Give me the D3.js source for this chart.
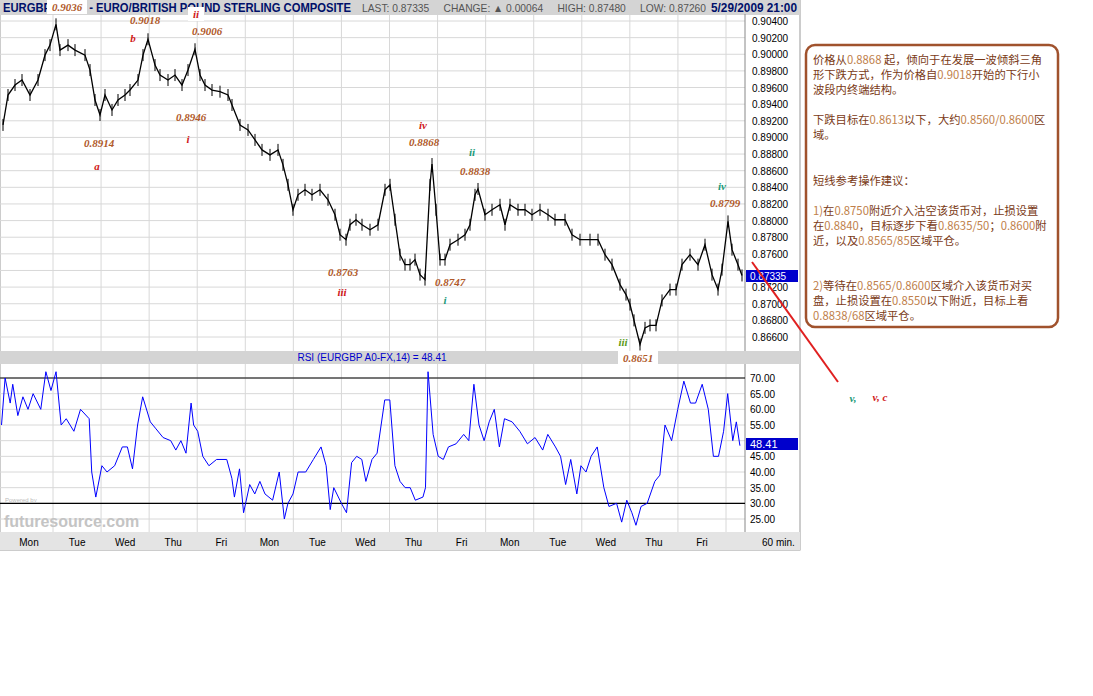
<!DOCTYPE html><html><head><meta charset="utf-8"><script src="https://cdn.jsdelivr.net/npm/d3@7"></script>
<style>body{margin:0;background:#fff}</style></head><body><svg id="c" width="1093" height="696"></svg>
<script>
const priceT=[3,8,15,22,30,38,45,50,56,60,68,75,85,90,95,100,105,112,118,125,130,138,143,148,155,160,168,175,182,188,195,200,205,212,220,228,232,240,248,255,262,270,278,283,288,293,298,305,312,320,328,335,340,346,350,356,362,370,378,385,390,395,400,405,410,415,420,425,430,432,436,440,445,450,458,465,470,475,478,485,492,500,505,510,518,525,532,540,548,555,565,572,580,590,598,605,612,620,626,630,634,640,645,650,656,662,670,676,682,690,698,705,712,718,722,728,732,738,742];
const priceV=[0.8915,0.8951,0.8963,0.8969,0.8951,0.8969,0.8999,0.9011,0.9036,0.9005,0.9011,0.9005,0.8999,0.8981,0.8945,0.8927,0.8951,0.8933,0.8945,0.8951,0.8957,0.8969,0.8999,0.9018,0.8987,0.8975,0.8969,0.8975,0.8963,0.8981,0.9006,0.8975,0.8963,0.8957,0.8955,0.8951,0.8939,0.8915,0.8909,0.8897,0.8885,0.8879,0.8885,0.8867,0.8843,0.8813,0.8831,0.8837,0.8831,0.8837,0.8825,0.8807,0.8783,0.8777,0.8795,0.8801,0.8795,0.8789,0.8795,0.8837,0.8843,0.8801,0.8759,0.8747,0.8747,0.8753,0.8735,0.8729,0.8843,0.8868,0.8813,0.8753,0.8753,0.8771,0.8777,0.8783,0.8795,0.8831,0.8838,0.8807,0.8813,0.8819,0.8795,0.8819,0.8813,0.8813,0.8807,0.8813,0.8807,0.8801,0.8801,0.8783,0.8777,0.8777,0.8777,0.8759,0.8747,0.8723,0.8711,0.8699,0.8680,0.8651,0.8671,0.8674,0.8674,0.8704,0.8717,0.8717,0.8747,0.8759,0.8747,0.8771,0.8735,0.8717,0.8741,0.8799,0.8765,0.8747,0.8734];
const rsiT=[3,10,20,25,35,45,55,65,80,90,100,110,120,130,145,158,175,180,188,200,210,225,240,250,260,270,280,295,305,320,335,345,355,365,375,380,388,398,410,425,445,455,460,470,478,490,500,510,520,535,548,558,565,575,585,600,615,630,640,648,655,670,680,690,700,710,718,730,740,755,765,775,785,795,805,815,830,835,840,850,860,870,880,895,910,920,930,940,950,960,970,980,990,1005,1020,1035,1050,1065,1075,1090,1100,1110,1120,1132,1140,1150,1160,1172,1185,1195,1210,1220,1230,1240,1248,1258,1270,1285,1295,1305,1318,1330,1342,1355,1365,1378,1390,1400,1410,1420,1428,1438,1445,1452];
const rsiV=[55,70,62,68,58,64,60,65,60,72,66,72,55,57,53,60,57,40,32,42,40,42,48,48,41,55,64,56,54,51,50,47,50,46,62,55,53,45,42,44,44,38,32,41,27,36,33,37,33,31,40,25,30,33,40,40,44,48,42,28,35,30,27,43,45,44,37,44,46,63,63,42,37,35,35,31,32,35,72,52,45,44,48,49,52,50,68,55,50,56,60,48,57,56,53,49,51,47,52,48,45,36,44,33,42,40,45,48,35,29,30,24,31,27,23,29,30,37,39,55,50,60,69,62,62,68,60,45,45,53,65,50,56,48.4];
const priceTicks=d3.range(0.866,0.90401,0.002);
const rsiTicks=[25,30,35,40,45,55,60,65,70];
const days=["Mon","Tue","Wed","Thu","Fri","Mon","Tue","Wed","Thu","Fri","Mon","Tue","Wed","Thu","Fri"];

const svg=d3.select("#c");
const W=745, F="Liberation Sans,Arial";
const x=d3.scaleLinear().domain([0,745]).range([0,W]);
const xr=d3.scaleLinear().domain([0,1462]).range([0,W]);
const y=d3.scaleLinear().domain([0.866,0.904]).range([337,21]);
const yr=d3.scaleLinear().domain([25,70]).range([519,378]);
svg.append("rect").attr("x",0).attr("y",0).attr("width",800).attr("height",550).attr("fill","#fff").attr("stroke","#999");
const g=svg.append("g");
priceTicks.forEach(v=>g.append("line").attr("x1",0).attr("x2",W).attr("y1",y(v)).attr("y2",y(v)).attr("stroke","#d8d8d8"));
rsiTicks.concat([50]).forEach(v=>g.append("line").attr("x1",0).attr("x2",W).attr("y1",yr(v)).attr("y2",yr(v)).attr("stroke","#d8d8d8"));
const dx=d3.scaleLinear().domain([0,14]).range([29,702]);
d3.range(0,15).forEach(i=>{const xx=dx(i)+24;g.append("line").attr("x1",xx).attr("x2",xx).attr("y1",14).attr("y2",532).attr("stroke","#d8d8d8");});
svg.append("rect").attr("x",0).attr("y",0).attr("width",800).attr("height",15).attr("fill","#d4d4d4");
svg.append("text").attr("x",3).attr("y",12).attr("font-family",F).attr("font-weight","bold").attr("font-size",12).attr("textLength",348).attr("lengthAdjust","spacingAndGlyphs").attr("fill","#00106a").text("EURGBP A0-FX - EURO/BRITISH POUND STERLING COMPOSITE");
svg.append("text").attr("x",362).attr("y",12).attr("font-family",F).attr("font-size",10.5).attr("textLength",344).attr("lengthAdjust","spacingAndGlyphs").attr("fill","#555").attr("xml:space","preserve").text("LAST: 0.87335     CHANGE: \u25B2 0.00064     HIGH: 0.87480     LOW: 0.87260");
svg.append("text").attr("x",797).attr("y",12).attr("text-anchor","end").attr("font-family",F).attr("font-size",12).attr("textLength",86).attr("lengthAdjust","spacingAndGlyphs").attr("font-weight","bold").attr("fill","#00106a").text("5/29/2009 21:00");
svg.append("g").selectAll("line").data(priceT).join("line").attr("x1",d=>x(d)).attr("x2",d=>x(d)).attr("y1",(d,i)=>y(priceV[i])-6).attr("y2",(d,i)=>y(priceV[i])+6).attr("stroke","#000");
svg.append("path").attr("d",d3.line().x(d=>x(d)).y((d,i)=>y(priceV[i]))(priceT)).attr("fill","none").attr("stroke","#000").attr("stroke-width",1.3);
svg.append("line").attr("x1",W).attr("x2",W).attr("y1",14).attr("y2",532).attr("stroke","#888");
priceTicks.forEach(v=>{if(Math.abs(v-0.874)>1e-6)svg.append("text").attr("x",752).attr("y",y(v)+4).attr("font-family",F).attr("font-size",10).text(v.toFixed(5));});
svg.append("rect").attr("x",746).attr("y",270).attr("width",52).attr("height",12).attr("fill","#0000cc");
svg.append("text").attr("x",750).attr("y",280).attr("font-family",F).attr("font-size",10).attr("fill","#fff").text("0.87335");
svg.append("rect").attr("x",0).attr("y",351).attr("width",800).attr("height",13).attr("fill","#d4d4d4");
svg.append("text").attr("x",372).attr("y",361).attr("text-anchor","middle").attr("font-family",F).attr("font-size",10).attr("fill","#0000cc").text("RSI (EURGBP A0-FX,14) = 48.41");
[30,70].forEach(v=>svg.append("line").attr("x1",0).attr("x2",W).attr("y1",yr(v)).attr("y2",yr(v)).attr("stroke","#000").attr("stroke-width",1.2));
svg.append("path").attr("d",d3.line().x(d=>xr(d)).y((d,i)=>yr(rsiV[i]))(rsiT)).attr("fill","none").attr("stroke","#0000ff").attr("stroke-width",1);
rsiTicks.forEach(v=>svg.append("text").attr("x",750).attr("y",yr(v)+4).attr("font-family",F).attr("font-size",10).text(v.toFixed(2)));
svg.append("rect").attr("x",746).attr("y",438).attr("width",52).attr("height",12).attr("fill","#0000cc");
svg.append("text").attr("x",750).attr("y",448).attr("font-family",F).attr("font-size",11).attr("fill","#fff").text("48.41");
svg.append("text").attr("x",5).attr("y",502).attr("font-family",F).attr("font-size",6).attr("fill","#bbb").text("Powered by");
svg.append("text").attr("x",4).attr("y",527).attr("font-family",F).attr("font-size",16).attr("fill","#c4c4c4").attr("font-weight","bold").text("futuresource.com");
svg.append("rect").attr("x",0).attr("y",532).attr("width",800).attr("height",18).attr("fill","#e4e4e4");
days.forEach((d,i)=>svg.append("text").attr("x",dx(i)).attr("y",546).attr("text-anchor","middle").attr("font-family",F).attr("font-size",10).text(d));
svg.append("text").attr("x",762).attr("y",546).attr("font-family",F).attr("font-size",10).text("60 min.");
const B="#b05a2a",R="#d01818",T="#1a9a78",O="#5a9a18";
const ann=[["0.9036",67,11,B,1],["0.9018",145,24,B],["b",133,42,R],["ii",196,18,R,1],["0.9006",207,35,B],["0.8914",99,147,B],["a",97,170,R],["0.8946",191,121,B],["i",188,143,R],["iv",423,129,R],["0.8868",424,146,B],["ii",472,156,T],["0.8838",475,175,B],["0.8763",343,276,B],["iii",342,296,R],["0.8747",450,286,B],["i",445,304,T],["iv",722,190,T],["0.8799",725,207,B],["iii",623,346,O],["0.8651",638,362,B,1],["v,",853,402,T],["v, c",880,401,R]];
ann.forEach(a=>{if(a[4])svg.append("rect").attr("x",a[1]-(a[0].length>2?20:8)).attr("y",a[2]-11).attr("width",a[0].length>2?40:16).attr("height",14).attr("fill","#fff");
svg.append("text").attr("x",a[1]).attr("y",a[2]).attr("text-anchor","middle").attr("font-family","Liberation Serif,serif").attr("font-style","italic").attr("font-weight","bold").attr("font-size",11).attr("fill",a[3]).text(a[0]);});
svg.append("line").attr("x1",752).attr("y1",262).attr("x2",838).attr("y2",382).attr("stroke","#e02020").attr("stroke-width",2);
svg.append("rect").attr("x",806).attr("y",45).attr("width",252).attr("height",282).attr("rx",9).attr("fill","#fff").attr("stroke","#a0522d").attr("stroke-width",2.5);
const lines=[[60,"价格从|0.8868| 起，倾向于在发展一波倾斜三角"],[75,"形下跌方式，作为价格自|0.9018|开始的下行小"],[90,"波段内终端结构。"],[120,"下跌目标在|0.8613|以下，大约|0.8560/0.8600|区"],[135,"域。"],[181,"短线参考操作建议："],[211,"|1)|在|0.8750|附近介入沽空该货币对，止损设置"],[226,"在|0.8840|，目标逐步下看|0.8635/50|；|0.8600|附"],[241,"近，以及|0.8565/85|区域平仓。"],[286,"|2)|等待在|0.8565/0.8600|区域介入该货币对买"],[301,"盘，止损设置在|0.8550|以下附近，目标上看"],[316,"|0.8838/68|区域平仓。"]];
lines.forEach(l=>{const t=svg.append("text").attr("x",813).attr("y",l[0]+4).attr("font-family","Noto Sans CJK SC").attr("font-size",11.3).attr("fill","#7a3a16");
l[1].split("|").forEach((s,i)=>{if(s)t.append("tspan").attr("fill",i%2?"#c0804a":"#7a3a16").text(s);});});
</script></body></html>
